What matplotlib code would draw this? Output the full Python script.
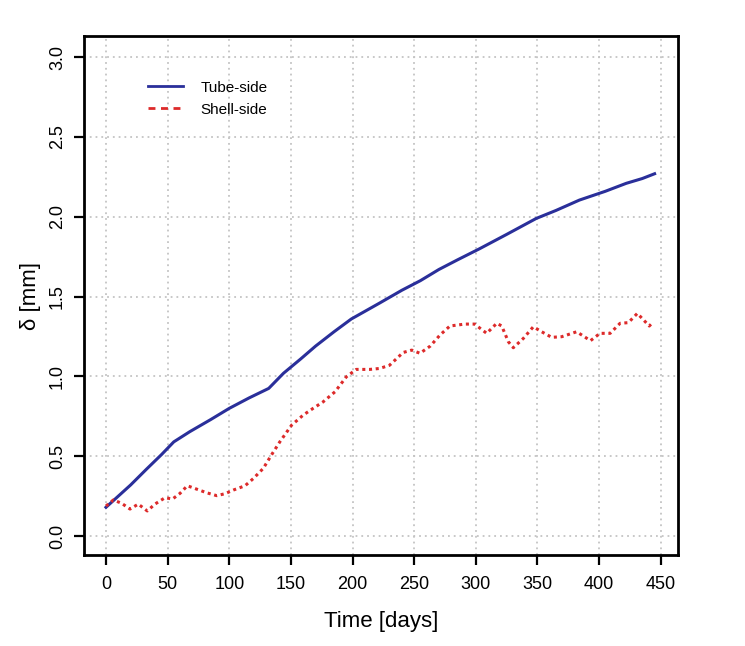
import matplotlib
matplotlib.use("Agg")
import matplotlib.pyplot as plt
from matplotlib.lines import Line2D

plt.rcParams['font.family'] = ['Liberation Sans', 'DejaVu Sans']

# Tube-side deposit thickness
tube_days = [0, 10, 20, 33, 45, 55, 68, 85, 100, 116, 132, 144, 158, 170, 185,
             199, 222, 240, 255, 270, 285, 303, 325, 349, 365, 384, 405, 422, 435, 445]
tube_mm = [0.18, 0.25, 0.32, 0.42, 0.51, 0.59, 0.654, 0.73, 0.80, 0.865, 0.925, 1.02,
           1.11, 1.19, 1.28, 1.36, 1.46, 1.54, 1.60, 1.67, 1.73, 1.80, 1.89, 1.99,
           2.04, 2.105, 2.16, 2.21, 2.24, 2.27]

# Shell-side deposit thickness
shell_days = [0, 6, 12.7, 19.5, 26.2, 33.5, 39.7, 47.9, 54, 60, 66, 73.5, 81.7, 89.8,
              96.5, 103.3, 112.8, 119.5, 127.6, 134.4, 141, 150.6, 160, 168, 176,
              185.8, 195, 203, 214, 222, 230, 241, 248, 254.7, 263, 271, 279, 291,
              299, 308.8, 317, 321, 326.4, 330.4, 338.5, 346.6, 353.4, 361.5, 369.7,
              381.8, 393, 400.7, 408.9, 417, 423.7, 431, 440.7, 444]
shell_mm = [0.188, 0.226, 0.205, 0.169, 0.20, 0.157, 0.20, 0.24, 0.232, 0.267, 0.315,
            0.294, 0.271, 0.253, 0.265, 0.288, 0.315, 0.36, 0.424, 0.51, 0.59, 0.695,
            0.758, 0.80, 0.84, 0.904, 0.998, 1.044, 1.044, 1.05, 1.07, 1.15, 1.165,
            1.145, 1.19, 1.26, 1.316, 1.328, 1.328, 1.27, 1.333, 1.316, 1.217, 1.18,
            1.238, 1.311, 1.28, 1.245, 1.249, 1.28, 1.224, 1.27, 1.27, 1.333, 1.337,
            1.395, 1.316, 1.343]

x_ticks = [0, 50, 100, 150, 200, 250, 300, 350, 400, 450]
y_ticks = [0.0, 0.5, 1.0, 1.5, 2.0, 2.5, 3.0]
y_tick_labels = ["0.0", "0.5", "1.0", "1.5", "2.0", "2.5", "3.0"]
series_names = ["Tube-side", "Shell-side"]

blue = "#2a2f9a"
red = "#dd2a2a"

fig = plt.figure(figsize=(7.45, 6.46), dpi=100)
ax = fig.add_axes([0.1128, 0.1401, 0.7973, 0.8034])

ax.plot(tube_days, tube_mm, color=blue, lw=2.2, zorder=3)
ax.plot(shell_days, shell_mm, color=red, lw=2.2, linestyle=(0, (1, 1.2)), zorder=3)

ax.set_xlim(-17.8, 464)
ax.set_ylim(-0.122, 3.13)
ax.set_xticks(x_ticks)
ax.set_xticklabels([str(v) for v in x_ticks])
ax.set_yticks(y_ticks)
ax.set_yticklabels(y_tick_labels, rotation=90, va='center')

ax.grid(True, color="#c4c4c4", linestyle=(0, (1, 2.2)), lw=1.3)
ax.set_axisbelow(True)

for s in ax.spines.values():
    s.set_linewidth(2.0)
    s.set_color("black")

ax.tick_params(axis='both', direction='out', length=7, width=1.6, labelsize=13,
               colors='black')
ax.tick_params(axis='x', pad=8)
ax.tick_params(axis='y', pad=6)

ax.set_xlabel("Time [days]", fontsize=16, labelpad=13)
ax.set_ylabel("δ [mm]", fontsize=16, labelpad=6)

handles = [Line2D([0], [0], color=blue, lw=2.0),
           Line2D([0], [0], color=red, lw=2.0, linestyle=(0, (2.5, 2)))]
leg = ax.legend(handles, series_names, loc='upper left', bbox_to_anchor=(0.108, 0.915),
                frameon=False, fontsize=11, handlelength=2.3, handletextpad=1.1,
                labelspacing=0.52, borderpad=0, borderaxespad=0)

fig.savefig("out.png", dpi=100)
